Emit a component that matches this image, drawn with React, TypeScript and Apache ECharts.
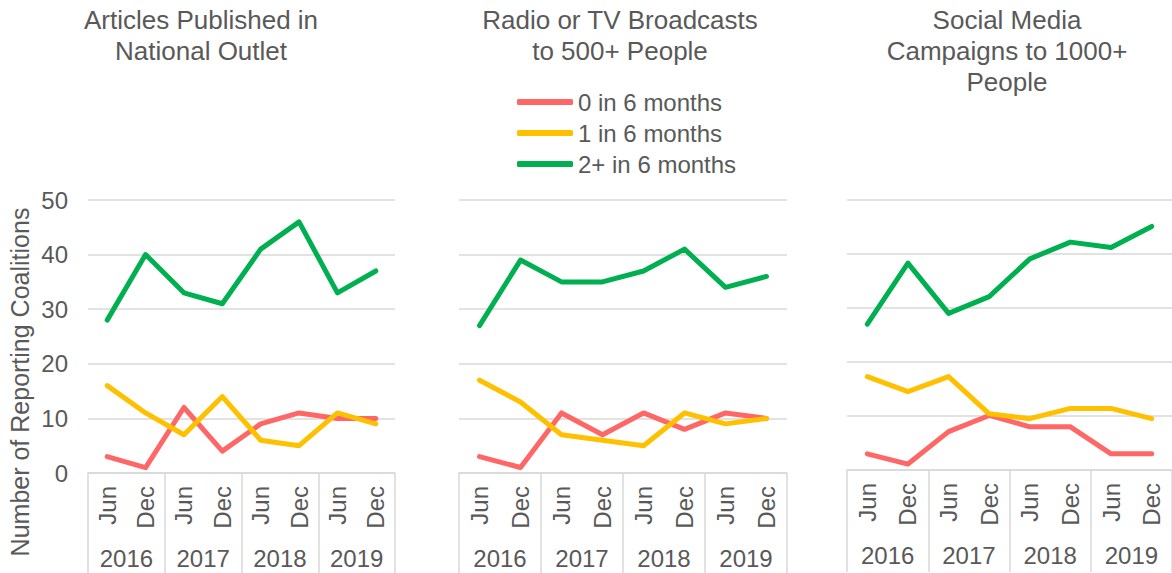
import React, { useEffect, useRef } from "react";
import * as echarts from "echarts";

const months = ["Jun", "Dec", "Jun", "Dec", "Jun", "Dec", "Jun", "Dec"];
const years = ["2016", "2017", "2018", "2019"];
const seriesNames = ["0 in 6 months", "1 in 6 months", "2+ in 6 months"];
const seriesColors = ["#FF6666", "#FFC000", "#00B050"];
const panelTitles = [
  "Articles Published in\nNational Outlet",
  "Radio or TV Broadcasts\nto 500+ People",
  "Social Media\nCampaigns to 1000+\nPeople",
];
const yTicks = [0, 10, 20, 30, 40, 50];
const yAxisName = "Number of Reporting Coalitions";

// Articles Published in National Outlet
const articlesZero = [3, 1, 12, 4, 9, 11, 10, 10];
const articlesOne = [16, 11, 7, 14, 6, 5, 11, 9];
const articlesTwoPlus = [28, 40, 33, 31, 41, 46, 33, 37];
// Radio or TV Broadcasts
const radioZero = [3, 1, 11, 7, 11, 8, 11, 10];
const radioOne = [17, 13, 7, 6, 5, 11, 9, 10];
const radioTwoPlus = [27, 39, 35, 35, 37, 41, 34, 36];
// Social Media Campaigns
const socialZero = [3.0, 1.1, 7.1, 10.1, 8.0, 8.0, 3.0, 3.0];
const socialOne = [17.3, 14.5, 17.3, 10.4, 9.5, 11.4, 11.4, 9.5];
const socialTwoPlus = [27.0, 38.3, 29.0, 32.1, 39.1, 42.2, 41.2, 45.1];

const panelData = [
  [articlesZero, articlesOne, articlesTwoPlus],
  [radioZero, radioOne, radioTwoPlus],
  [socialZero, socialOne, socialTwoPlus],
];

const FONT = '"Liberation Sans", Arial, Helvetica, sans-serif';
const TEXT = "#595959";
const GRID_LINE = "#D9D9D9";

const grids = [
  { left: 88, top: 200, width: 307, height: 273 },
  { left: 459, top: 200, width: 328, height: 273 },
  { left: 847, top: 200, width: 327, height: 270 },
];
const titleCenters = [201, 620, 1007];

export default function App() {
  const ref = useRef<HTMLDivElement>(null);
  useEffect(() => {
    if (!ref.current) return;
    const chart = echarts.init(ref.current, undefined, { renderer: "svg" });
    const xAxes: any[] = [];
    const yAxes: any[] = [];
    const series: any[] = [];
    grids.forEach((g, i) => {
      xAxes.push({
        type: "category",
        gridIndex: i,
        data: months,
        boundaryGap: true,
        axisLine: { show: true, lineStyle: { color: GRID_LINE, width: 1.5 } },
        axisTick: { show: false },
        axisLabel: {
          interval: 0,
          rotate: 90,
          margin: 13,
          fontSize: 24,
          fontFamily: FONT,
          color: TEXT,
        },
        splitLine: { show: false },
      });
      xAxes.push({
        type: "category",
        gridIndex: i,
        data: years,
        position: "bottom",
        boundaryGap: true,
        axisLine: { show: false },
        axisTick: { show: true, length: 102, lineStyle: { color: GRID_LINE, width: 1.5 } },
        axisLabel: {
          interval: 0,
          margin: 73,
          fontSize: 24,
          fontFamily: FONT,
          color: TEXT,
        },
        splitLine: { show: false },
      });
      yAxes.push({
        type: "value",
        gridIndex: i,
        min: 0,
        max: 50,
        interval: 10,
        axisLine: { show: false },
        axisTick: { show: false },
        axisLabel: {
          show: i === 0,
          margin: 20,
          fontSize: 24,
          fontFamily: FONT,
          color: TEXT,
          formatter: (v: number) => (yTicks.includes(v) ? String(v) : ""),
        },
        splitLine: { show: true, lineStyle: { color: GRID_LINE, width: 1.5 } },
      });
      panelData[i].forEach((vals, k) => {
        series.push({
          type: "line",
          name: seriesNames[k],
          xAxisIndex: i * 2,
          yAxisIndex: i,
          data: vals,
          symbol: "none",
          color: seriesColors[k],
          lineStyle: { width: 5, color: seriesColors[k], cap: "round", join: "round" },
          z: 3 + k,
        });
      });
    });

    const graphics: any[] = panelTitles.map((t, i) => ({
      type: "text",
      x: titleCenters[i],
      y: 4,
      style: {
        text: t,
        textAlign: "center",
        textVerticalAlign: "top",
        fontSize: 26,
        fontFamily: FONT,
        lineHeight: 31,
        fill: TEXT,
      },
    }));
    graphics.push({
      type: "text",
      x: 20,
      y: 382,
      rotation: Math.PI / 2,
      style: {
        text: yAxisName,
        textAlign: "center",
        textVerticalAlign: "middle",
        fontSize: 25,
        fontFamily: FONT,
        fill: TEXT,
      },
    });

    chart.setOption({
      animation: false,
      backgroundColor: "#ffffff",
      grid: grids.map((g) => ({ ...g, containLabel: false })),
      xAxis: xAxes,
      yAxis: yAxes,
      series,
      legend: {
        data: seriesNames,
        orient: "vertical",
        left: 512,
        top: 85,
        itemWidth: 56,
        itemHeight: 6,
        itemGap: 7,
        icon: "roundRect",
        textStyle: { fontSize: 24, fontFamily: FONT, color: TEXT },
      },
      graphic: graphics,
    });
    return () => chart.dispose();
  }, []);
  return (
    <div
      ref={ref}
      style={{ position: "absolute", left: 0, top: 0, width: 1172, height: 573 }}
    />
  );
}
